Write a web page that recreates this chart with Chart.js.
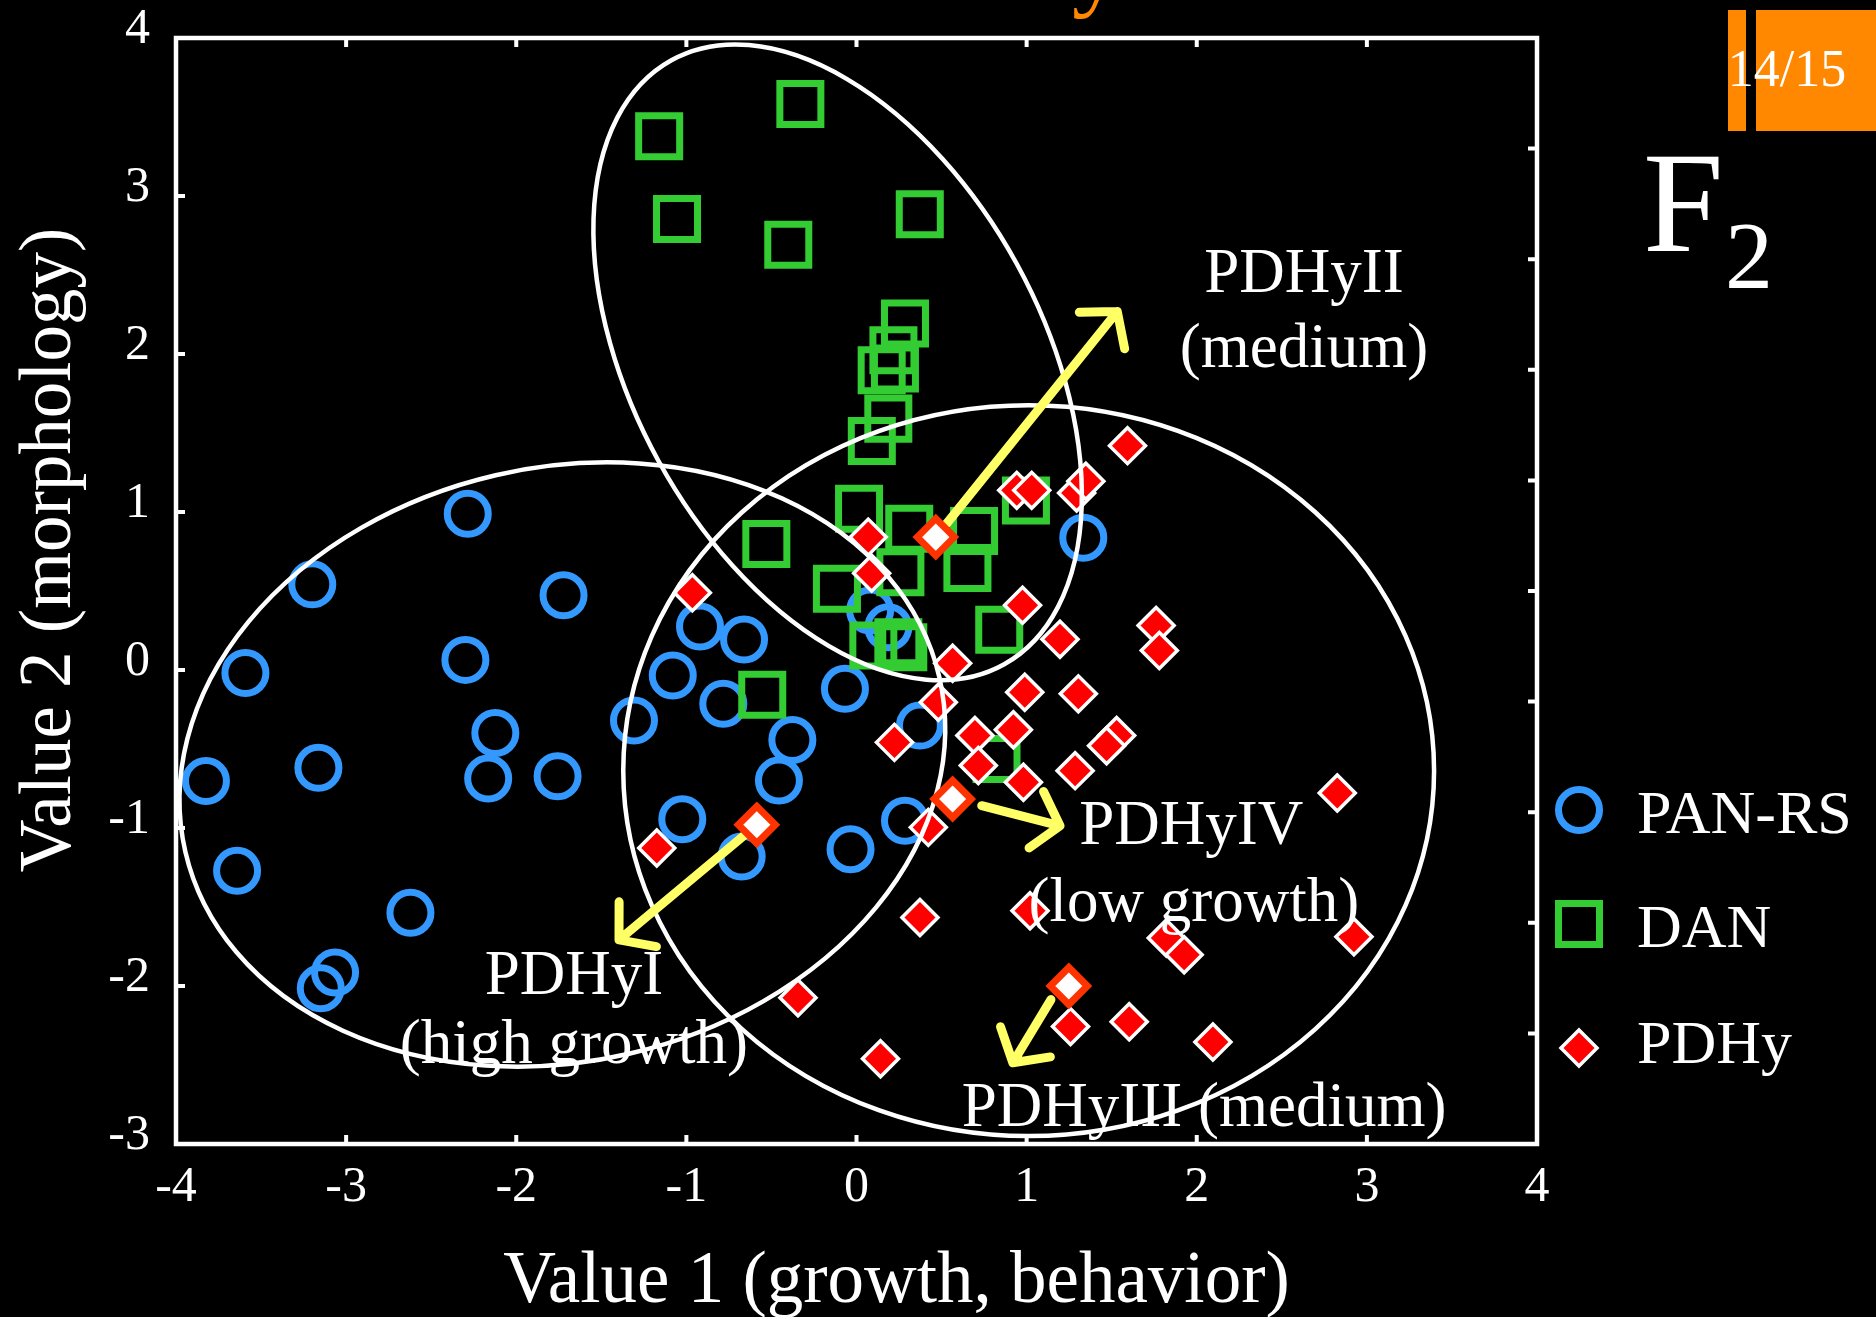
<!DOCTYPE html>
<html lang="en">
<head>
<meta charset="utf-8">
<title>F2 – PAN-RS / DAN / PDHy</title>
<script src="https://cdn.jsdelivr.net/npm/chart.js@4.4.1/dist/chart.umd.min.js"></script>
<style>
  html, body { margin: 0; padding: 0; background: #000; overflow: hidden; }
  #slide { position: relative; width: 1876px; height: 1317px; background: #000; overflow: hidden; }
  #chart-wrap { position: absolute; left: 0; top: 0; width: 1876px; height: 1317px; }
  .txt { position: absolute; font-family: "Liberation Serif", "DejaVu Serif", serif; line-height: 1; white-space: nowrap; color: #fff; }
  #title { left: 0; top: -85px; font-size: 100px; color: #ff8800; }
  .bar { position: absolute; top: 10px; height: 121px; background: #ff8800; }
  #page { left: 1687px; width: 200px; top: 43px; font-size: 52px; text-align: center; }
  #gen { left: 1643px; top: 130px; font-size: 145px; }
  #gen-sub { left: 1725px; top: 208px; font-size: 96px; }
</style>
</head>
<body>
<div id="slide">
  <div id="title" class="txt">Discriminant function analysis</div>
  <div class="bar" style="left:1728px;width:18px"></div>
  <div class="bar" style="left:1756px;width:120px"></div>
  <div id="page" class="txt">14/15</div>
  <div id="gen" class="txt">F</div>
  <div id="gen-sub" class="txt">2</div>
  <div id="chart-wrap"><canvas id="scatter"></canvas></div>
</div>
<script>
// values
const xTickValues = [-4, -3, -2, -1, 0, 1, 2, 3, 4];
const yTickValues = [-3, -2, -1, 0, 1, 2, 3, 4];
const rightTickValues = [0, 1, 2, 3, 4, 5, 6, 7, 8, 9, 10];

const panRsX = [-2.285, -3.199, -3.592, -3.824, -3.641, -3.163, -2.299, -1.722, -2.123, -2.165,
                -1.757, -2.622, -3.065, -3.149, -0.920, -0.661, -1.080, -0.783, -1.308, -0.377,
                -0.456, -1.024, -0.675, -0.068, -0.035, 0.285, 0.373, 1.333, 0.080, 0.187];
const panRsY = [0.989, 0.542, -0.019, -0.702, -1.271, -0.619, 0.064, 0.473, -0.399, -0.687,
                -0.672, -1.536, -1.915, -2.014, 0.275, 0.193, -0.035, -0.214, -0.320, -0.443,
                -0.700, -0.945, -1.180, -0.119, -1.134, -0.954, -0.352, 0.837, 0.377, 0.271];

const danX = [-1.160, -0.330, -1.055, -0.401, 0.372, 0.285, 0.217, 0.148, 0.226, 0.187,
              0.090, 0.015, 0.310, 0.691, 0.652, 0.996, -0.115, 0.258, 0.839, 0.099,
              0.246, 0.275, -0.530, -0.554, 0.823];
const danY = [3.378, 3.583, 2.855, 2.692, 2.884, 2.193, 2.024, 1.897, 1.908, 1.591,
              1.450, 1.021, 0.894, 0.879, 0.645, 1.073, 0.514, 0.619, 0.254, 0.155,
              0.176, 0.144, 0.797, -0.156, -0.563];

const pdhyX = [1.593, 0.942, 1.030, 1.294, 1.348, 0.069, 0.089, -0.965, 0.976, 1.196,
               1.761, 1.780, 0.565, 0.481, 0.989, 1.304, 0.223, 0.696, 0.922, 1.529,
               1.470, 0.716, 0.981, 1.285, 0.422, -1.174, 2.826, 0.373, 1.020, 1.821,
               1.926, 2.924, 1.258, 1.603, 2.095, -0.344, 0.141];
const pdhyY = [1.420, 1.137, 1.137, 1.120, 1.195, 0.841, 0.613, 0.489, 0.410, 0.194,
               0.282, 0.123, 0.043, -0.204, -0.141, -0.151, -0.458, -0.415, -0.378, -0.415,
               -0.479, -0.605, -0.711, -0.637, -0.996, -1.127, -0.778, -1.566, -1.524, -1.696,
               -1.802, -1.688, -2.257, -2.226, -2.355, -2.075, -2.461];

// group centres PDHyI, PDHyII, PDHyIII, PDHyIV
const centroidX = [-0.586, 0.466, 1.248, 0.565];
const centroidY = [-0.980, 0.841, -2.000, -0.816];

// ellipses: centre and two half-axis vectors, in data units
const ellipseCx = [-1.729, -0.111, 1.012];
const ellipseCy = [-0.598, 1.947, -0.637];
const ellipseUx = [2.216, 0.977, 2.383];
const ellipseUy = [0.552, -1.912, 0];
const ellipseVx = [-0.392, 1.052, 0];
const ellipseVy = [1.831, 0.626, 2.313];

// yellow arrows
const arrowFromX = [-0.586, 0.466, 1.143, 0.736];
const arrowFromY = [-0.980, 0.841, -2.086, -0.859];
const arrowToX = [-1.396, 1.533, 0.919, 1.196];
const arrowToY = [-1.708, 2.269, -2.486, -0.986];

const labelText = ['PDHyII', '(medium)', 'PDHyIV', '(low growth)', 'PDHyI', '(high growth)', 'PDHyIII (medium)'];
const labelX = [2.630, 2.630, 1.968, 1.983, -1.661, -1.661, 2.043];
const labelY = [2.391, 1.918, -1.103, -1.587, -2.050, -2.487, -2.886];

const seriesNames = ['PAN-RS', 'DAN', 'PDHy'];

const SERIF = '"Liberation Serif", "DejaVu Serif", serif';
Chart.defaults.font.family = SERIF;

const toPoints = (xs, ys) => xs.map((x, i) => ({ x: x, y: ys[i] }));

function drawMarker(ctx, ds, x, y) {
    ctx.save();
    ctx.fillStyle = ds.pointBackgroundColor;
    ctx.strokeStyle = ds.pointBorderColor;
    ctx.lineWidth = ds.pointBorderWidth;
    const opts = { pointStyle: ds.pointStyle, radius: ds.pointRadius, borderWidth: ds.pointBorderWidth, rotation: 0 };
    if (Chart.helpers && Chart.helpers.drawPoint) {
        Chart.helpers.drawPoint(ctx, opts, x, y);
    } else {
        const r = ds.pointRadius;
        ctx.beginPath();
        if (ds.pointStyle === 'circle') ctx.arc(x, y, r, 0, Math.PI * 2);
        else if (ds.pointStyle === 'rect') { const s = Math.SQRT1_2 * r; ctx.rect(x - s, y - s, 2 * s, 2 * s); }
        else { ctx.moveTo(x - r, y); ctx.lineTo(x, y - r); ctx.lineTo(x + r, y); ctx.lineTo(x, y + r); ctx.closePath(); }
        ctx.fill();
        ctx.stroke();
    }
    ctx.restore();
}

const overlay = {
    id: 'overlay',
    // ellipses, arrows and group labels go above the points but under the centres
    afterDatasetDraw(chart, args) {
        if (args.index !== 2) return;
        const ctx = chart.ctx;
        const sx = chart.scales.x, sy = chart.scales.y;
        const px = (vx, vy) => ({ x: sx.getPixelForValue(vx), y: sy.getPixelForValue(vy) });
        ctx.save();

        ctx.strokeStyle = '#ffffff';
        ctx.lineWidth = 4.5;
        ellipseCx.forEach((cx, i) => {
            const cy = ellipseCy[i];
            const c = px(cx, cy);
            const u = px(cx + ellipseUx[i], cy + ellipseUy[i]);
            const v = px(cx + ellipseVx[i], cy + ellipseVy[i]);
            ctx.save();
            ctx.transform(u.x - c.x, u.y - c.y, v.x - c.x, v.y - c.y, c.x, c.y);
            ctx.beginPath();
            ctx.arc(0, 0, 1, 0, Math.PI * 2);
            ctx.restore();
            ctx.stroke();
        });

        ctx.strokeStyle = '#ffff66';
        ctx.lineWidth = 9;
        ctx.lineCap = 'round';
        ctx.lineJoin = 'round';
        const head = 38, spread = 50 * Math.PI / 180;
        arrowFromX.forEach((fx, i) => {
            const a = px(fx, arrowFromY[i]);
            const b = px(arrowToX[i], arrowToY[i]);
            const back = Math.atan2(a.y - b.y, a.x - b.x);
            ctx.beginPath();
            ctx.moveTo(a.x, a.y);
            ctx.lineTo(b.x, b.y);
            ctx.moveTo(b.x + head * Math.cos(back - spread), b.y + head * Math.sin(back - spread));
            ctx.lineTo(b.x, b.y);
            ctx.lineTo(b.x + head * Math.cos(back + spread), b.y + head * Math.sin(back + spread));
            ctx.stroke();
        });

        ctx.fillStyle = '#ffffff';
        ctx.font = '63px ' + SERIF;
        ctx.textAlign = 'center';
        ctx.textBaseline = 'alphabetic';
        labelText.forEach((t, i) => {
            const p = px(labelX[i], labelY[i]);
            ctx.fillText(t, p.x, p.y);
        });
        ctx.restore();
    },
    afterDraw(chart) {
        const ctx = chart.ctx;
        const area = chart.chartArea;
        const sx = chart.scales.x, sy = chart.scales.y, sy2 = chart.scales.y2;
        ctx.save();

        // frame with inward ticks
        ctx.strokeStyle = '#ffffff';
        ctx.lineWidth = 4.5;
        ctx.strokeRect(area.left, area.top, area.right - area.left, area.bottom - area.top);
        ctx.lineWidth = 4;
        const tl = 9;
        ctx.beginPath();
        sx.ticks.forEach(t => {
            const p = sx.getPixelForValue(t.value);
            ctx.moveTo(p, area.bottom); ctx.lineTo(p, area.bottom - tl);
            ctx.moveTo(p, area.top); ctx.lineTo(p, area.top + tl);
        });
        sy.ticks.forEach(t => {
            const p = sy.getPixelForValue(t.value);
            ctx.moveTo(area.left, p); ctx.lineTo(area.left + tl, p);
        });
        sy2.ticks.forEach(t => {
            const p = sy2.getPixelForValue(t.value);
            ctx.moveTo(area.right, p); ctx.lineTo(area.right - tl, p);
        });
        ctx.stroke();

        // axis titles
        ctx.fillStyle = '#ffffff';
        ctx.font = '73px ' + SERIF;
        ctx.textAlign = 'center';
        ctx.textBaseline = 'alphabetic';
        ctx.fillText('Value 1 (growth, behavior)', (area.left + area.right) / 2 + 40, area.bottom + 158);
        ctx.save();
        ctx.translate(70, (area.top + area.bottom) / 2 - 41);
        ctx.rotate(-Math.PI / 2);
        ctx.fillText('Value 2 (morphology)', 0, 0);
        ctx.restore();

        // legend
        const legendX = area.right + 42;
        const markerY = [810, 924, 1048];
        const textY = [833, 947, 1063];
        ctx.font = '62px ' + SERIF;
        ctx.textAlign = 'left';
        seriesNames.forEach((name, i) => {
            drawMarker(ctx, chart.data.datasets[i], legendX, markerY[i]);
            ctx.fillStyle = '#ffffff';
            ctx.fillText(name, legendX + 58, textY[i]);
        });
        ctx.restore();
    }
};

new Chart(document.getElementById('scatter'), {
    type: 'scatter',
    data: {
        datasets: [
            {
                label: seriesNames[0],
                data: toPoints(panRsX, panRsY),
                pointStyle: 'circle',
                pointRadius: 20.5,
                pointBorderWidth: 7,
                pointBorderColor: '#3399ff',
                pointBackgroundColor: 'rgba(0,0,0,0)',
                order: 4
            },
            {
                label: seriesNames[1],
                data: toPoints(danX, danY),
                pointStyle: 'rect',
                pointRadius: 29,
                pointBorderWidth: 7,
                pointBorderColor: '#33cc33',
                pointBackgroundColor: 'rgba(0,0,0,0)',
                order: 3
            },
            {
                label: seriesNames[2],
                data: toPoints(pdhyX, pdhyY),
                pointStyle: 'rectRot',
                pointRadius: 18,
                pointBorderWidth: 3.5,
                pointBorderColor: '#ffffff',
                pointBackgroundColor: '#ff0000',
                order: 2
            },
            {
                label: 'centres',
                data: toPoints(centroidX, centroidY),
                pointStyle: 'rectRot',
                pointRadius: 18.5,
                pointBorderWidth: 7,
                pointBorderColor: '#ff3300',
                pointBackgroundColor: '#ffffff',
                order: 1
            }
        ]
    },
    options: {
        responsive: true,
        maintainAspectRatio: false,
        animation: false,
        events: [],
        layout: { padding: { top: 38, right: 339, bottom: 0, left: 0 } },
        plugins: {
            legend: { display: false },
            tooltip: { enabled: false }
        },
        scales: {
            x: {
                type: 'linear',
                min: -4,
                max: 4,
                afterBuildTicks: s => { s.ticks = xTickValues.map(v => ({ value: v })); },
                afterFit: s => { s.height = 173; },
                grid: { display: false, drawTicks: false },
                border: { display: false },
                ticks: { color: '#ffffff', font: { size: 50 }, padding: 14, maxRotation: 0, autoSkip: false }
            },
            y: {
                type: 'linear',
                min: -3,
                max: 4,
                afterBuildTicks: s => { s.ticks = yTickValues.map(v => ({ value: v })); },
                afterFit: s => { s.width = 176; s.paddingTop = 0; s.paddingBottom = 0; },
                grid: { display: false, drawTicks: false },
                border: { display: false },
                ticks: { color: '#ffffff', font: { size: 50 }, padding: 26, labelOffset: -8, autoSkip: false }
            },
            y2: {
                type: 'linear',
                position: 'right',
                min: 0,
                max: 10,
                afterBuildTicks: s => { s.ticks = rightTickValues.map(v => ({ value: v })); },
                afterFit: s => { s.width = 0; s.paddingTop = 0; s.paddingBottom = 0; },
                grid: { display: false, drawTicks: false },
                border: { display: false },
                ticks: { display: false }
            }
        }
    },
    plugins: [overlay]
});
</script>
</body>
</html>
